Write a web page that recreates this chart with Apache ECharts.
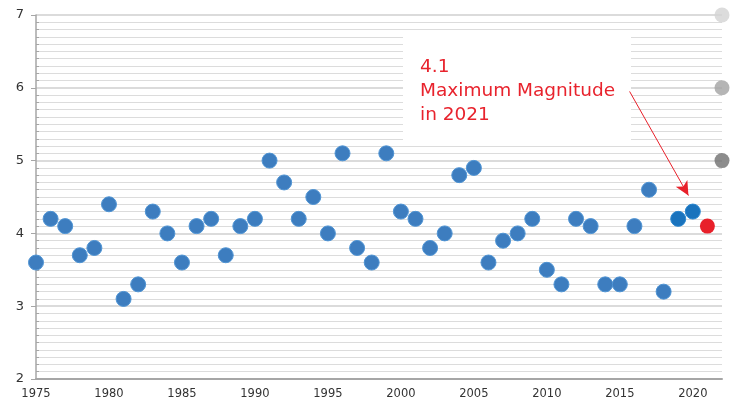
<!DOCTYPE html>
<html><head><meta charset="utf-8">
<script src="https://cdn.jsdelivr.net/npm/echarts@6/dist/echarts.min.js"></script>
<style>html,body{margin:0;padding:0;background:#fff}#c{width:732px;height:401px}</style>
</head><body><div id="c"></div>
<script>
const years = [1975,1976,1977,1978,1979,1980,1981,1982,1983,1984,1985,1986,1987,1988,1989,1990,1991,1992,1993,1994,1995,1996,1997,1998,1999,2000,2001,2002,2003,2004,2005,2006,2007,2008,2009,2010,2011,2012,2013,2014,2015,2016,2017,2018];
const magnitudes = [3.6,4.2,4.1,3.7,3.8,4.4,3.1,3.3,4.3,4.0,3.6,4.1,4.2,3.7,4.1,4.2,5.0,4.7,4.2,4.5,4.0,5.1,3.8,3.6,5.1,4.3,4.2,3.8,4.0,4.8,4.9,3.6,3.9,4.0,4.2,3.5,3.3,4.2,4.1,3.3,3.3,4.1,4.6,3.2];
const recentYears = [2019,2020];
const recentValues = [4.2,4.3];
const maxYear = [2021];
const maxValue = [4.1];
const legendYear = 2022;
const legendValues = [7,6,5];
const legendColors = ['#d3d3d3','#a3a3a3','#6f6f6f'];
const annotationLines = ['4.1','Maximum Magnitude','in 2021'];

const chart = echarts.init(document.getElementById('c'), null, {renderer:'canvas'});
const yBase = {type:'value',min:2,max:7,interval:1};
const option = {
  animation:false,
  grid:{left:36,right:10,top:15,bottom:22,containLabel:false},
  xAxis:{type:'value',min:1975,max:2022,interval:5,
    axisLine:{show:true,lineStyle:{color:'#a6a6a6',width:2}},
    axisTick:{show:false},
    splitLine:{show:false},
    axisLabel:{color:'#333',fontSize:11.5,fontFamily:'DejaVu Sans',margin:9,
      formatter:v=> (v%5===0 && v<=2020)? String(v):''}
  },
  yAxis:[Object.assign({},yBase,{
    axisLine:{show:true,lineStyle:{color:'#a6a6a6',width:1.5}},
    axisTick:{show:true,length:5,lineStyle:{color:'#a6a6a6'}},
    minorTick:{show:true,splitNumber:10,length:0,lineStyle:{color:'rgba(0,0,0,0)'}},
    splitLine:{show:true,lineStyle:{color:'#cfcfcf',width:1.5}},
    minorSplitLine:{show:true,lineStyle:{color:'#dcdcdc',width:1}},
    axisLabel:{color:'#333',fontSize:13,fontFamily:'DejaVu Sans',margin:12}
  }),Object.assign({},yBase,{position:'left',
    axisLine:{show:false},
    axisTick:{show:false,inside:true},
    minorTick:{show:true,splitNumber:10,length:3,lineStyle:{color:'#a6a6a6'}},
    splitLine:{show:false},
    axisLabel:{show:false}
  })],
  graphic:[
    {type:'rect',z:50,shape:{x:403,y:37,width:228,height:108},style:{fill:'#fff'}},
    {type:'text',z:51,left:420,top:55,style:{text:annotationLines.join('\n'),fill:'#e8232d',fontSize:18.5,fontFamily:'DejaVu Sans',lineHeight:24}}
  ],
  series:[
    {type:'scatter',data:years.map((y,i)=>[y,magnitudes[i]]),symbolSize:15,
      itemStyle:{color:'#3d7dbf',borderColor:'#4f94d4',borderWidth:1,opacity:1}},
    {type:'scatter',data:recentYears.map((y,i)=>[y,recentValues[i]]),symbolSize:15,
      itemStyle:{color:'#1a73bd',borderColor:'#2a86cf',borderWidth:1,opacity:1}},
    {type:'scatter',data:maxYear.map((y,i)=>[y,maxValue[i]]),symbolSize:15,z:60,
      itemStyle:{color:'#e8202a',opacity:1},
      markLine:{silent:true,symbol:['none','arrow'],symbolSize:[10,14],z:60,
        lineStyle:{color:'#e8202a',width:1,type:'solid'},label:{show:false},
        data:[[{coord:[2015.67,5.95]},{coord:[2019.7,4.52]}]]}},
    {type:'scatter',clip:false,data:legendValues.map((v,i)=>({value:[legendYear,v],itemStyle:{color:legendColors[i]}})),symbolSize:15}
  ]
};
chart.setOption(option);
</script></body></html>
